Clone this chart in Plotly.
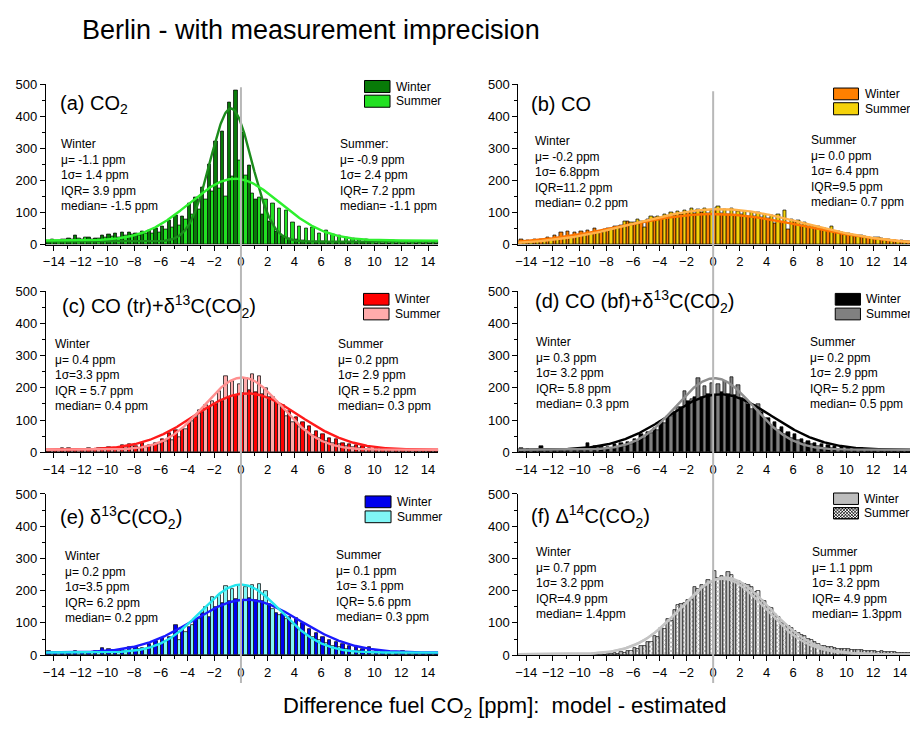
import numpy as np
import plotly.graph_objects as go

W, H = 910, 744
FONT = "Liberation Sans, Arial, Helvetica, sans-serif"

# 0.5 ppm histogram bins (centres)
bin_centers = np.arange(-14.75, 15.0, 0.5)

# ---------------- counts per bin ----------------
co2_winter = [12, 10, 14, 16, 20, 28, 18, 24, 20, 30, 32, 34, 38, 40, 36, 42, 45, 52, 56, 75,
              92, 88, 128, 148, 178, 250, 322, 352, 444, 480, 350, 246, 140, 95, 72, 42, 26, 20, 18, 14,
              12, 10, 10, 8, 8, 7, 7, 6, 6, 6, 5, 5, 5, 5, 4, 4, 4, 4, 3, 3]
co2_summer = [15, 18, 14, 16, 18, 20, 22, 18, 20, 24, 26, 22, 28, 32, 30, 35, 34, 40, 48, 55,
              62, 80, 95, 110, 140, 165, 175, 150, 212, 262, 215, 160, 148, 140, 128, 112, 108, 70, 56, 50,
              55, 36, 46, 32, 30, 22, 20, 18, 16, 14, 14, 12, 13, 11, 12, 10, 9, 8, 8, 7]

co_winter = [14, 16, 15, 18, 17, 22, 30, 38, 42, 40, 42, 45, 50, 38, 52, 58, 62, 72, 70, 72,
             80, 85, 84, 88, 92, 95, 100, 98, 100, 97, 112, 98, 95, 93, 94, 90, 88, 84, 82, 66,
             70, 48, 72, 62, 58, 55, 50, 44, 40, 38, 34, 30, 28, 24, 22, 20, 18, 15, 14, 12]
co_summer = [10, 8, 12, 10, 14, 13, 20, 24, 26, 30, 32, 36, 40, 48, 52, 58, 74, 70, 78, 55,
             88, 90, 96, 100, 104, 106, 112, 110, 112, 108, 120, 110, 112, 104, 105, 100, 102, 96, 92, 96,
             108, 80, 76, 70, 62, 58, 52, 56, 42, 36, 32, 30, 26, 20, 22, 16, 14, 12, 10, 9]

cotr_winter = [5, 4, 6, 12, 14, 6, 8, 14, 10, 12, 16, 14, 22, 25, 18, 28, 22, 30, 40, 58,
               70, 72, 90, 110, 125, 140, 150, 160, 170, 178, 185, 192, 186, 180, 172, 160, 145, 128, 110, 95,
               80, 66, 55, 44, 40, 30, 25, 22, 20, 14, 12, 14, 10, 9, 8, 8, 7, 6, 5, 5]
cotr_summer = [8, 6, 8, 10, 6, 8, 10, 8, 12, 14, 12, 14, 16, 18, 14, 16, 22, 26, 34, 38,
               48, 72, 98, 130, 145, 160, 190, 236, 222, 212, 230, 243, 236, 200, 170, 150, 112, 95, 78, 68,
               52, 44, 36, 30, 26, 20, 15, 12, 10, 8, 9, 8, 6, 6, 7, 6, 5, 5, 4, 4]

cobf_winter = [10, 12, 10, 8, 18, 10, 8, 8, 10, 8, 12, 28, 18, 20, 16, 24, 28, 32, 42, 55,
               62, 75, 98, 112, 125, 140, 160, 170, 172, 180, 178, 188, 182, 176, 168, 150, 140, 125, 105, 95,
               78, 62, 55, 42, 35, 30, 25, 22, 18, 15, 14, 10, 12, 8, 8, 8, 6, 6, 5, 5]
cobf_summer = [6, 8, 6, 4, 8, 6, 6, 4, 8, 6, 8, 10, 12, 10, 14, 16, 20, 26, 36, 44,
               58, 70, 90, 112, 140, 190, 165, 230, 205, 215, 212, 222, 232, 208, 165, 135, 148, 105, 82, 70,
               55, 45, 38, 30, 25, 18, 14, 12, 10, 8, 8, 6, 6, 5, 6, 5, 4, 4, 3, 3]

d13_winter = [8, 12, 10, 8, 6, 12, 8, 10, 12, 22, 20, 14, 18, 24, 25, 22, 35, 45, 52, 55,
              94, 80, 86, 110, 130, 118, 150, 162, 168, 175, 170, 178, 172, 168, 158, 132, 128, 118, 115, 100,
              80, 68, 55, 48, 40, 35, 30, 24, 18, 25, 12, 14, 10, 8, 14, 8, 6, 6, 5, 5]
d13_summer = [6, 8, 6, 6, 8, 6, 6, 8, 10, 8, 10, 12, 14, 14, 18, 20, 24, 36, 44, 52,
              48, 72, 95, 112, 148, 182, 188, 215, 205, 218, 210, 218, 222, 200, 142, 125, 112, 96, 78, 62,
              56, 46, 38, 30, 24, 18, 14, 12, 10, 8, 8, 6, 6, 5, 6, 5, 4, 4, 4, 4]

d14_winter = [0, 0, 0, 0, 0, 0, 0, 0, 0, 1, 1, 1, 2, 3, 4, 6, 10, 14, 22, 30,
              42, 60, 85, 112, 140, 160, 172, 212, 218, 232, 262, 245, 258, 232, 225, 218, 196, 172, 150, 128,
              100, 92, 76, 62, 50, 40, 30, 26, 22, 20, 18, 16, 15, 14, 12, 12, 10, 9, 8, 8]
d14_summer = [0, 0, 0, 0, 0, 0, 0, 0, 0, 0, 1, 1, 1, 2, 4, 5, 8, 12, 20, 28,
              40, 55, 80, 105, 155, 162, 170, 205, 215, 225, 240, 238, 250, 230, 222, 210, 200, 168, 145, 120,
              98, 85, 70, 58, 46, 36, 30, 24, 20, 19, 17, 15, 14, 13, 11, 10, 9, 8, 7, 7]

# Gaussian fits: (baseline, amplitude, centre, width)
fits = {
    "a": [(10, 415, -0.75, 1.55), (13, 193, -0.45, 3.4)],
    "b": [(0, 96, 0.0, 6.8), (0, 111, 0.5, 6.3)],
    "c": [(8, 175, 0.45, 3.9), (8, 224, 0.1, 2.9)],
    "d": [(8, 172, 0.5, 3.9), (8, 222, 0.1, 2.9)],
    "e": [(8, 164, 0.4, 4.0), (8, 211, 0.0, 3.0)],
    "f": [(3, 234, 0.7, 3.2), (3, 238, 0.9, 3.3)],
}

titles = {
    "a": "(a) CO<sub>2</sub>",
    "b": "(b) CO",
    "c": "(c) CO (tr)+δ<sup>13</sup>C(CO<sub>2</sub>)",
    "d": "(d) CO (bf)+δ<sup>13</sup>C(CO<sub>2</sub>)",
    "e": "(e) δ<sup>13</sup>C(CO<sub>2</sub>)",
    "f": "(f) Δ<sup>14</sup>C(CO<sub>2</sub>)",
}

stats_winter = {
    "a": ["Winter", "μ= -1.1 ppm", "1σ= 1.4 ppm", "IQR= 3.9 ppm", "median= -1.5 ppm"],
    "b": ["Winter", "μ= -0.2 ppm", "1σ= 6.8ppm", "IQR=11.2 ppm", "median= 0.2 ppm"],
    "c": ["Winter", "μ= 0.4 ppm", "1σ=3.3 ppm", "IQR = 5.7 ppm", "median= 0.4 ppm"],
    "d": ["Winter", "μ= 0.3 ppm", "1σ= 3.2 ppm", "IQR= 5.8 ppm", "median= 0.3 ppm"],
    "e": ["Winter", "μ= 0.2 ppm", "1σ=3.5 ppm", "IQR= 6.2 ppm", "median= 0.2 ppm"],
    "f": ["Winter", "μ= 0.7 ppm", "1σ= 3.2 ppm", "IQR=4.9 ppm", "median= 1.4ppm"],
}
stats_summer = {
    "a": ["Summer:", "μ= -0.9 ppm", "1σ= 2.4 ppm", "IQR= 7.2 ppm", "median= -1.1 ppm"],
    "b": ["Summer", "μ= 0.0 ppm", "1σ= 6.4 ppm", "IQR=9.5 ppm", "median= 0.7 ppm"],
    "c": ["Summer", "μ= 0.2 ppm", "1σ= 2.9 ppm", "IQR = 5.2 ppm", "median= 0.3 ppm"],
    "d": ["Summer", "μ= 0.2 ppm", "1σ= 2.9 ppm", "IQR= 5.2 ppm", "median= 0.5 ppm"],
    "e": ["Summer", "μ= 0.1 ppm", "1σ= 3.1 ppm", "IQR= 5.6 ppm", "median= 0.3 ppm"],
    "f": ["Summer", "μ= 1.1 ppm", "1σ= 3.2 ppm", "IQR= 4.9 ppm", "median= 1.3ppm"],
}

counts = {
    "a": (co2_winter, co2_summer),
    "b": (co_winter, co_summer),
    "c": (cotr_winter, cotr_summer),
    "d": (cobf_winter, cobf_summer),
    "e": (d13_winter, d13_summer),
    "f": (d14_winter, d14_summer),
}

# bar fill colours (winter, summer) and fit line colours
bar_colors = {
    "a": ("#087a08", "#22e022"),
    "b": ("#ff8000", "#f5d20a"),
    "c": ("#ff0000", "#ffabab"),
    "d": ("#000000", "#808080"),
    "e": ("#0000ee", "#80f6f6"),
    "f": ("#bdbdbd", "#ffffff"),
}
line_colors = {
    "a": ("#1c8c1c", "#2ef02e"),
    "b": ("#ff7400", "#ffb24a"),
    "c": ("#ff1a1a", "#ff8f8f"),
    "d": ("#000000", "#8e8e8e"),
    "e": ("#1a1aff", "#22e6ee"),
    "f": ("#c4c4c4", "#c4c4c4"),
}

# ---------------- layout geometry (pixels) ----------------
X_RANGE = [-14.6, 14.75]
Y_RANGE = [0, 500]
col_px = {"L": (43, 436.5), "R": (517, 910)}
row_px = {0: (79, 242.7), 1: (290, 454.5), 2: (497, 661.5)}
panel_pos = {"a": ("L", 0), "b": ("R", 0), "c": ("L", 1),
             "d": ("R", 1), "e": ("L", 2), "f": ("R", 2)}


def px(x):
    return x / W


def py(y):
    return 1 - y / H


fig = go.Figure()
shapes = []
annotations = []
tick_font = dict(family=FONT, size=13, color="black")

for i, key in enumerate("abcdef", start=1):
    col, row = panel_pos[key]
    xa = "x" if i == 1 else f"x{i}"
    ya = "y" if i == 1 else f"y{i}"
    xdom = [px(col_px[col][0]), px(col_px[col][1])]
    ydom = [py(row_px[row][1]), py(row_px[row][0])]

    fig.update_layout(**{
        ("xaxis" if i == 1 else f"xaxis{i}"): dict(
            domain=xdom, anchor=ya, range=X_RANGE, dtick=2, tick0=0,
            ticks="outside", ticklen=5, tickcolor="black", showline=True,
            linecolor="black", linewidth=1, showgrid=False, zeroline=False,
            tickfont=tick_font,
            minor=dict(dtick=1, tick0=0, ticks="outside", ticklen=3, tickcolor="black", showgrid=False),
        ),
        ("yaxis" if i == 1 else f"yaxis{i}"): dict(
            domain=ydom, anchor=xa, range=Y_RANGE, dtick=100,
            ticks="outside", ticklen=5, tickcolor="black", showline=True,
            linecolor="black", linewidth=1, showgrid=False, zeroline=False,
            tickfont=tick_font,
            minor=dict(dtick=50, ticks="outside", ticklen=3, tickcolor="black", showgrid=False),
        ),
    })

    w_counts, s_counts = counts[key]
    wc, sc = bar_colors[key]
    fig.add_trace(go.Bar(x=bin_centers, y=w_counts, xaxis=xa, yaxis=ya, name="Winter",
                         marker=dict(color=wc, line=dict(color="black", width=0.7)),
                         offsetgroup="w", showlegend=False))
    summer_marker = dict(color=sc, line=dict(color="black", width=0.7))
    if key == "f":
        summer_marker["pattern"] = dict(shape="x", fgcolor="black", bgcolor="white", size=3, solidity=0.3)
    fig.add_trace(go.Bar(x=bin_centers, y=s_counts, xaxis=xa, yaxis=ya, name="Summer",
                         marker=summer_marker, offsetgroup="s", showlegend=False))

    # Gaussian fit curves
    xs = np.linspace(-15, 15, 601)
    for (y0, amp, xc, wd), lc in zip(fits[key], line_colors[key]):
        ys = y0 + amp * np.exp(-0.5 * ((xs - xc) / wd) ** 2)
        fig.add_trace(go.Scatter(x=xs, y=ys, xaxis=xa, yaxis=ya, mode="lines",
                                 line=dict(color=lc, width=2.4), showlegend=False,
                                 hoverinfo="skip"))

# vertical zero lines spanning each column
for col, (top, bot) in {"L": (82, 690), "R": (86, 690)}.items():
    x0p, x1p = col_px[col]
    xzero = x0p + (0 - X_RANGE[0]) / (X_RANGE[1] - X_RANGE[0]) * (x1p - x0p)
    shapes.append(dict(type="line", xref="paper", yref="paper",
                       x0=px(xzero), x1=px(xzero), y0=py(bot), y1=py(top),
                       line=dict(color="#b8b8b8", width=2), layer="above"))

# panel titles (left x, middle y)
title_pos = {"a": (55, 99), "b": (528, 99), "c": (57, 306),
             "d": (532, 301), "e": (55, 521), "f": (528, 520)}
for key, (tx, ty) in title_pos.items():
    annotations.append(dict(text=titles[key], xref="paper", yref="paper",
                            x=px(tx), y=py(ty), xanchor="left", yanchor="middle",
                            showarrow=False, font=dict(family=FONT, size=20, color="black")))

# statistics blocks (left x, centre of first line)
stat_pos = {
    "a": ((56, 140), (336, 140)),
    "b": ((532, 137), (809, 136)),
    "c": ((50, 344), (334, 344)),
    "d": ((533, 342), (808, 342)),
    "e": ((60, 560), (332, 559)),
    "f": ((533, 556), (810, 556)),
}
for key, ((wx, wy), (sx, sy)) in stat_pos.items():
    for lines, (ax, ay) in ((stats_winter[key], (wx, wy)), (stats_summer[key], (sx, sy))):
        annotations.append(dict(text="<br>".join(lines), xref="paper", yref="paper",
                                x=px(ax), y=py(ay - 9), xanchor="left", yanchor="top",
                                align="left", showarrow=False,
                                font=dict(family=FONT, size=12, color="black")))

# legend swatches and labels
legend_pos = {
    "a": (362.7, 388.3, (75, 87.3), (90, 102.3), 392.7),
    "b": (833.3, 858.3, (82.7, 94.7), (97.7, 110), 862.7),
    "c": (361.7, 387.3, (292.3, 304.3), (307.3, 319.3), 391.7),
    "d": (835, 860.3, (292.3, 304.3), (307.3, 319.3), 864.3),
    "e": (363.3, 389.3, (499, 511), (514.3, 526.3), 393.3),
    "f": (833.3, 858.3, (496, 507.7), (511, 522.3), 861.7),
}


def hatch_path(x0, x1, y0, y1, step=3.2):
    w, h = x1 - x0, y1 - y0
    segs = []
    t = -h
    while t < w:
        u0, u1 = max(0, -t), min(h, w - t)
        if u1 > u0:
            segs.append(((x0 + t + u0, y0 + u0), (x0 + t + u1, y0 + u1)))
        t += step
    t = 0
    while t < w + h:
        u0, u1 = max(0, t - w), min(h, t)
        if u1 > u0:
            segs.append(((x0 + t - u0, y0 + u0), (x0 + t - u1, y0 + u1)))
        t += step
    return " ".join(f"M{px(a[0]):.5f},{py(a[1]):.5f} L{px(b[0]):.5f},{py(b[1]):.5f}" for a, b in segs)


for key, (bx0, bx1, (wy0, wy1), (sy0, sy1), lx) in legend_pos.items():
    wc, sc = bar_colors[key]
    for (y0, y1), color, label in (((wy0, wy1), wc, "Winter"), ((sy0, sy1), sc, "Summer")):
        shapes.append(dict(type="rect", xref="paper", yref="paper",
                           x0=px(bx0), x1=px(bx1), y0=py(y1), y1=py(y0),
                           fillcolor=color, line=dict(color="black", width=1), layer="above"))
        annotations.append(dict(text=label, xref="paper", yref="paper",
                                x=px(lx), y=py((y0 + y1) / 2), xanchor="left", yanchor="middle",
                                showarrow=False, font=dict(family=FONT, size=12, color="black")))
    if key == "f":
        shapes.append(dict(type="path", xref="paper", yref="paper",
                           path=hatch_path(bx0, bx1, sy0, sy1),
                           line=dict(color="black", width=0.8), layer="above"))
        shapes.append(dict(type="rect", xref="paper", yref="paper",
                           x0=px(bx0), x1=px(bx1), y0=py(sy1), y1=py(sy0),
                           line=dict(color="black", width=1), layer="above"))

# figure title and common x label
annotations.append(dict(text="Berlin - with measurement imprecision", xref="paper", yref="paper",
                        x=px(77), y=py(23), xanchor="left", yanchor="middle", showarrow=False,
                        font=dict(family=FONT, size=27, color="black")))
annotations.append(dict(text="Difference fuel CO<sub>2</sub> [ppm]:\u00a0 model - estimated",
                        xref="paper", yref="paper", x=px(503), y=py(714),
                        xanchor="center", yanchor="middle", showarrow=False,
                        font=dict(family=FONT, size=22, color="black")))

fig.update_layout(
    width=W, height=H, margin=dict(l=0, r=0, t=0, b=0),
    paper_bgcolor="white", plot_bgcolor="white",
    barmode="group", bargap=0, bargroupgap=0,
    showlegend=False, shapes=shapes, annotations=annotations,
    font=dict(family=FONT, color="black"),
)

fig.write_html("out.html")
